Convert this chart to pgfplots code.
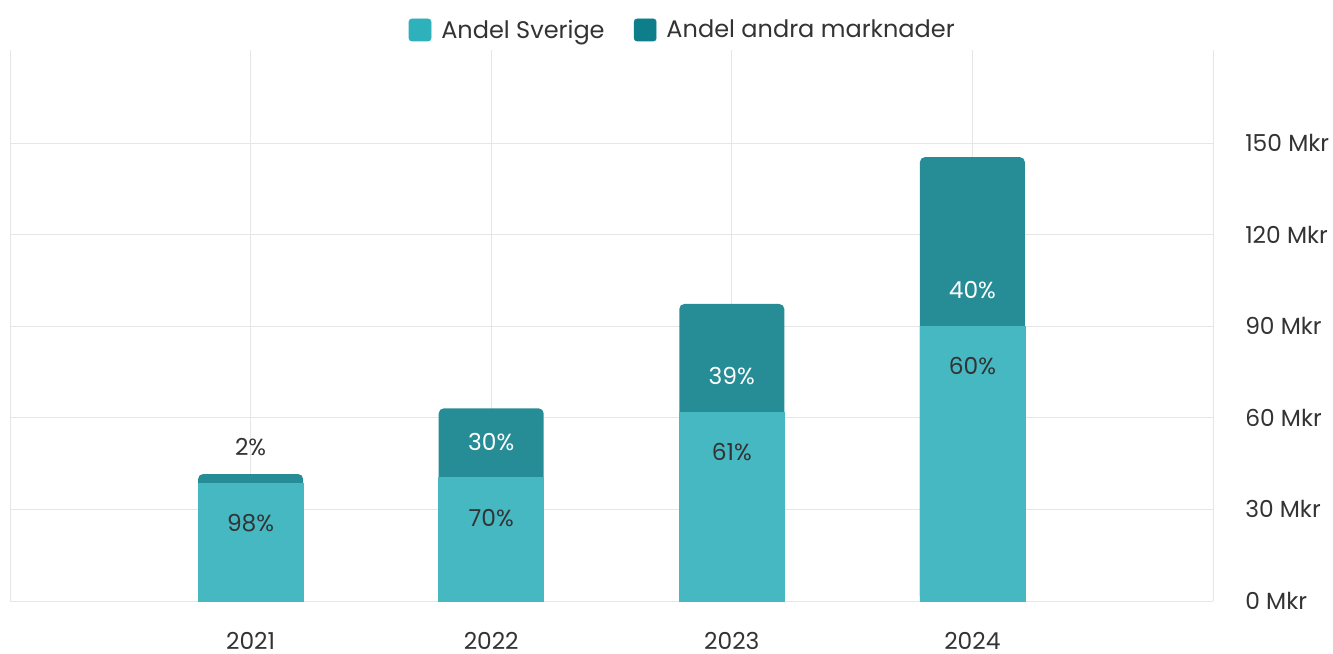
\documentclass[border=0pt]{standalone}
\usepackage{fontspec}
\setmainfont{Poppins}
\usepackage{pgfplots}
\pgfplotsset{compat=1.18}
\definecolor{sve}{HTML}{2FB1BB}
\definecolor{oth}{HTML}{0E7F8A}
\definecolor{sveb}{HTML}{45B8C2}
\definecolor{othb}{HTML}{268D97}
\definecolor{txt}{HTML}{333333}
\definecolor{gridc}{HTML}{E6E6E6}
\begin{document}
\begin{tikzpicture}
\begin{axis}[
  at={(0,0)}, anchor=south west,
  scale only axis, width=902.25pt, height=413.25pt,
  xmin=0, xmax=5, ymin=0, ymax=180.5,
  ybar, bar width=78.75pt, bar shift=0pt,
  axis line style={draw=none},
  xtick={1,2,3,4}, xticklabels={2021,2022,2023,2024},
  ytick={0,30,60,90,120,150},
  yticklabels={0 Mkr,30 Mkr,60 Mkr,90 Mkr,120 Mkr,150 Mkr},
  yticklabel pos=right,
  major tick length=0pt,
  grid=major, grid style={gridc, line width=0.75pt},
  extra x ticks={0,5}, extra x tick labels={},
  extra x tick style={grid=major},
  tick label style={font=\fontsize{17.5}{21}\selectfont, text=txt},
  yticklabel style={anchor=west, inner sep=0pt, xshift=24pt},
  xticklabel style={anchor=north, inner sep=0pt, yshift=-23pt},
  legend columns=-1,
  legend style={at={(0.5595,1.0363)}, anchor=center, draw=none, fill=none,
    font=\fontsize{18}{21}\selectfont, text=txt,
    /tikz/every even column/.append style={column sep=20pt}},
]
\addlegendimage{legend image code/.code={\fill[sve, rounded corners=2pt] (0pt,-8.25pt) rectangle (16.5pt,8.25pt); \path (22pt,0pt);}}
\addlegendentry{Andel Sverige}
\addlegendimage{legend image code/.code={\fill[oth, rounded corners=2pt] (0pt,-8.25pt) rectangle (16.5pt,8.25pt); \path (22pt,0pt);}}
\addlegendentry{Andel andra marknader}
% totals (Sverige + andra marknader)
\addplot[fill=othb, draw=none, forget plot, rounded corners=3.75pt]
  coordinates {(1,41.6) (2,63.1) (3,97.3) (4,145.4)};
% Sverige
\addplot[fill=sveb, draw=sveb, line width=0.6pt, forget plot]
  coordinates {(1,38.6) (2,40.4) (3,61.9) (4,90.0)};
\node[text=txt, yshift=-30pt, font=\fontsize{17.5}{21}\selectfont] at (axis cs:1,38.6) {98\%};
\node[text=txt, yshift=-30pt, font=\fontsize{17.5}{21}\selectfont] at (axis cs:2,40.4) {70\%};
\node[text=txt, yshift=-30pt, font=\fontsize{17.5}{21}\selectfont] at (axis cs:3,61.9) {61\%};
\node[text=txt, yshift=-30pt, font=\fontsize{17.5}{21}\selectfont] at (axis cs:4,90.0) {60\%};
\node[text=txt, yshift=27pt, font=\fontsize{17.5}{21}\selectfont] at (axis cs:1,38.6) {2\%};
\node[text=white, yshift=27pt, font=\fontsize{17.5}{21}\selectfont] at (axis cs:2,40.4) {30\%};
\node[text=white, yshift=27pt, font=\fontsize{17.5}{21}\selectfont] at (axis cs:3,61.9) {39\%};
\node[text=white, yshift=27pt, font=\fontsize{17.5}{21}\selectfont] at (axis cs:4,90.0) {40\%};
\end{axis}
\pgfresetboundingbox
\path[use as bounding box] (-7.5pt,-39pt) rectangle (992.25pt,450.75pt);
\end{tikzpicture}
\end{document}
